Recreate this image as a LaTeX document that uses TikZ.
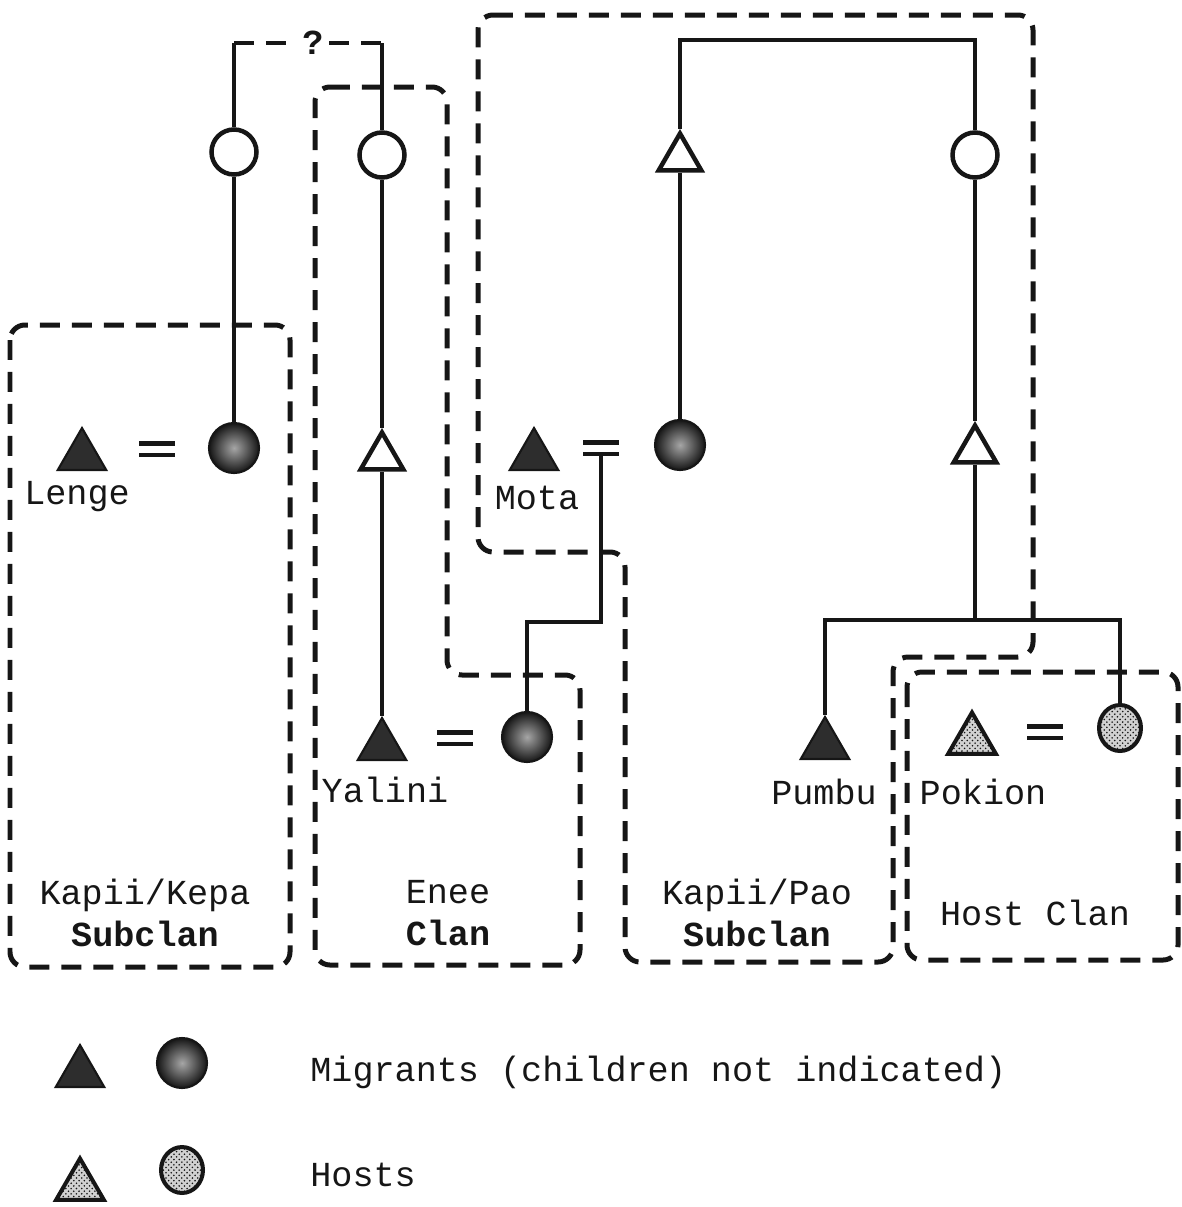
\documentclass[tikz,border=0pt]{standalone}
\usepackage{fontspec}
\setmonofont{Liberation Mono}
\usepackage{xcolor}
\usepackage{tikz}
\usetikzlibrary{shapes.geometric, patterns, positioning}
\definecolor{inkblack}{RGB}{22, 22, 22}
\definecolor{migrantgray}{RGB}{45, 45, 45}

\tikzset{
  kin/.style={draw=inkblack, line width=0.095cm},
  clanbox/.style={draw=inkblack, line width=0.1cm, dash pattern=on 0.4cm off 0.24cm, rounded corners=0.3cm},
  wed/.style={draw=inkblack, line width=0.09cm, double=white, double distance=0.14cm},
  marriage/.style={inner sep=0pt, minimum width=0.7cm, minimum height=0.32cm},
  male/.style={regular polygon, regular polygon sides=3, inner sep=0pt, minimum size=0.98cm,
               draw=inkblack, line width=0.09cm, fill=white},
  female/.style={circle, inner sep=0pt, minimum size=0.9cm, draw=inkblack, line width=0.09cm, fill=white},
  migrantm/.style={regular polygon, regular polygon sides=3, inner sep=0pt, minimum size=1.12cm,
                   draw=inkblack, line width=1.2pt, fill=migrantgray},
  migrantf/.style={circle, inner sep=0pt, minimum size=1.0cm, draw=inkblack, line width=1.2pt,
                   inner color=black!35, outer color=inkblack},
  hostm/.style={regular polygon, regular polygon sides=3, inner sep=0pt, minimum size=1.1cm,
                draw=inkblack, line width=0.08cm, preaction={fill=black!18},
                pattern=crosshatch dots, pattern color=inkblack},
  hostf/.style={ellipse, inner sep=0pt, minimum width=0.84cm, minimum height=0.92cm,
                draw=inkblack, line width=0.08cm, preaction={fill=black!18},
                pattern=crosshatch dots, pattern color=inkblack},
  lbl/.style={font=\ttfamily\fontsize{20}{24}\selectfont, text=inkblack, inner sep=0pt},
  clanlbl/.style={lbl, align=center}
}

\begin{document}
\begin{tikzpicture}[x=0.02cm, y=-0.02cm]
  \useasboundingbox (0,0) rectangle (1181,1207);

  % clan and subclan boundaries
  \draw[clanbox] (10,325) rectangle (290,967);
  \draw[clanbox] (315,87) -- (447,87) -- (447,675) -- (580,675) -- (580,965) -- (315,965) -- cycle;
  \draw[clanbox] (478,15) -- (1033,15) -- (1033,657) -- (893,657) -- (893,962) -- (625,962)
                 -- (625,552) -- (478,552) -- cycle;
  \draw[clanbox] (907,672) rectangle (1178,960);

  % Kapii/Kepa side
  \node[female] (kepaF) at (234,152) {};
  \node[female] (eneeF) at (382,155) {};
  \node[migrantm] (lenge) at (82,456) {};
  \node[marriage] (eqLenge) at (157,449) {};
  \node[migrantf] (lengeW) at (234,448) {};
  \node[male] (yaliniFa) at (382,457) {};
  \node[migrantm] (yalini) at (382,746) {};
  \node[marriage] (eqYalini) at (455,738) {};
  \node[migrantf] (yaliniW) at (527,737) {};

  % Kapii/Pao side
  \node[male] (paoM) at (680,158) {};
  \node[female] (paoF) at (975,155) {};
  \node[migrantm] (mota) at (534,456) {};
  \node[marriage] (eqMota) at (601,448) {};
  \node[migrantf] (motaW) at (680,445) {};
  \node[male] (pokionFa) at (975,450) {};
  \node[migrantm] (pumbu) at (825,745) {};
  \node[hostm] (pokion) at (972,740) {};
  \node[marriage] (eqPokion) at (1045,732) {};
  \node[hostf] (pokionW) at (1120,728) {};

  \coordinate (kepaTop) at (234,43);
  \coordinate (eneeTop) at (382,43);
  \coordinate (paoTop) at (830,40);
  \coordinate (motaJoin) at (601,622);
  \coordinate (sibTop) at (975,620);
  \node[lbl, font=\ttfamily\bfseries\fontsize{20}{24}\selectfont, fill=white, inner sep=3pt] (unsure) at (313,43) {?};

  % descent lines
  \draw[kin] (kepaF.north) -- (kepaTop);
  \draw[kin] (eneeF.north) -- (eneeTop);
  \draw[kin, dash pattern=on 0.4cm off 0.24cm] (kepaTop) -- (unsure.west);
  \draw[kin, dash pattern=on 0.4cm off 0.24cm] (unsure.east) -- (eneeTop);
  \draw[kin] (kepaF.south) -- (lengeW.north);
  \draw[kin] (eneeF.south) -- (yaliniFa.north);
  \draw[kin] (yaliniFa.south) -- (yalini.north);
  \draw[kin] (eqMota.south) -- (motaJoin) -| (yaliniW.north);
  \draw[kin] (paoM.north) |- (paoTop) -| (paoF.north);
  \draw[kin] (paoM.south) -- (motaW.north);
  \draw[kin] (paoF.south) -- (pokionFa.north);
  \draw[kin] (pokionFa.south) -- (sibTop);
  \draw[kin] (pumbu.north) |- (sibTop) -| (pokionW.north);

  % marriages
  \draw[wed] (eqLenge.west) -- (eqLenge.east);
  \draw[wed] (eqYalini.west) -- (eqYalini.east);
  \draw[wed] (eqMota.west) -- (eqMota.east);
  \draw[wed] (eqPokion.west) -- (eqPokion.east);

  % names
  \node[lbl] (lengeLbl) at (77,497) {Lenge};
  \node[lbl] (yaliniLbl) at (385,790) {Yalini};
  \node[lbl] (motaLbl) at (537,498) {Mota};
  \node[lbl] (pumbuLbl) at (824,792) {Pumbu};
  \node[lbl] (pokionLbl) at (983,792) {Pokion};

  \node[clanlbl] (kepaLbl) at (145,913) {Kapii/Kepa\\\textbf{Subclan}};
  \node[clanlbl] (eneeLbl) at (448,913) {Enee\\\textbf{Clan}};
  \node[clanlbl] (paoLbl) at (757,913) {Kapii/Pao\\\textbf{Subclan}};
  \node[lbl] (hostLbl) at (1035,913) {Host Clan};

  % key
  \node[migrantm] (keyMigM) at (80,1073) {};
  \node[migrantf] (keyMigF) at (182,1063) {};
  \node[lbl, anchor=west] (keyMig) at (310,1072) {Migrants (children not indicated)};
  \node[hostm] (keyHostM) at (80,1186) {};
  \node[hostf] (keyHostF) at (182,1170) {};
  \node[lbl, anchor=west] (keyHost) at (310,1175) {Hosts};
\end{tikzpicture}
\end{document}
